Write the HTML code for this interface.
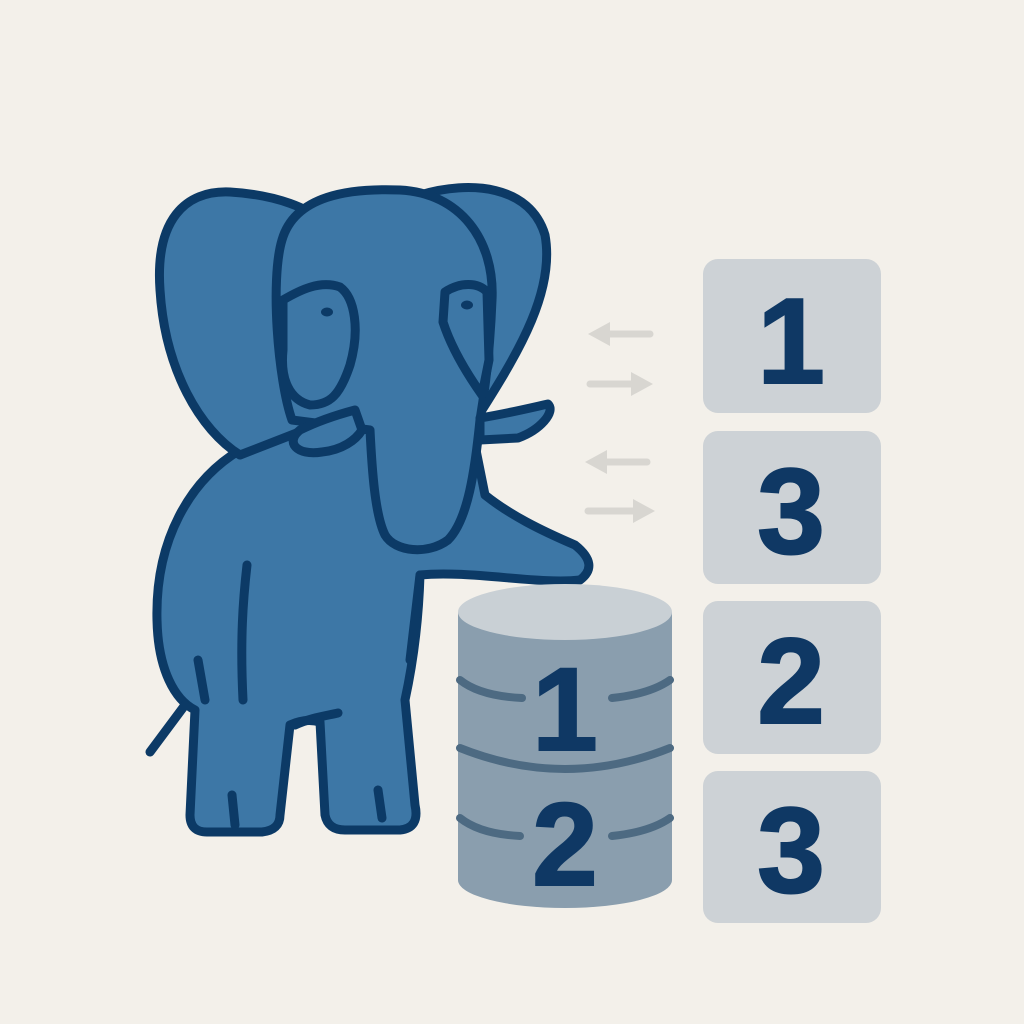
<!DOCTYPE html>
<html><head><style>
html,body{margin:0;padding:0;background:#f3f0ea;}
svg{display:block}
</style></head><body>
<svg width="1024" height="1024" viewBox="0 0 1024 1024" xmlns="http://www.w3.org/2000/svg">
<rect width="1024" height="1024" fill="#f3f0ea"/>
<!-- arrows -->
<g stroke="#d8d6d1" stroke-width="7" stroke-linecap="round" fill="none">
<path d="M650,334 L605,334"/>
<path d="M590,384 L635,384"/>
<path d="M647,462 L602,462"/>
<path d="M588,511 L636,511"/>
</g>
<g fill="#d8d6d1">
<path d="M588,334 L610,322 L610,346 Z"/>
<path d="M653,384 L631,372 L631,396 Z"/>
<path d="M585,462 L607,450 L607,474 Z"/>
<path d="M655,511 L633,499 L633,523 Z"/>
</g>
<!-- boxes -->
<g fill="#cdd2d6">
<rect x="703" y="259" width="178" height="154" rx="15"/>
<rect x="703" y="431" width="178" height="153" rx="15"/>
<rect x="703" y="601" width="178" height="153" rx="15"/>
<rect x="703" y="771" width="178" height="152" rx="15"/>
</g>
<g font-family="Liberation Sans, sans-serif" font-weight="bold" font-size="122" fill="#0f3864" text-anchor="middle" stroke="#0f3864" stroke-width="2">
<text x="791" y="383">1</text>
<text x="791" y="553">3</text>
<text x="791" y="723">2</text>
<text x="791" y="892">3</text>
</g>
<!-- elephant body -->
<g stroke="#0c3a66" stroke-width="9" stroke-linejoin="round" stroke-linecap="round" fill="#3d77a6">
<path d="M240,450 C190,480 155,540 157,620 C158,670 175,700 195,710 L190,815 Q190,832 207,832 L262,832 Q280,830 280,815 L290,725 Q305,718 320,722 L325,815 Q328,830 345,830 L400,830 Q420,828 415,805 L405,700 Q418,640 420,575 C470,570 540,585 580,580 Q600,565 575,545 C540,530 510,515 485,495 L470,420 L300,430 Z"/>
<path d="M240,455 C200,430 165,370 160,290 C155,220 185,190 230,192 C280,195 310,210 320,220 L330,420 Z"/>
<path d="M420,195 C470,180 530,185 545,235 C555,290 520,350 482,410 L460,260 Z"/>
<path d="M292,420 C278,380 270,280 282,240 C295,195 350,188 400,190 C460,193 495,240 492,300 C490,350 485,390 480,420 C475,470 468,520 448,540 C428,555 395,552 385,535 C375,515 372,470 370,430 Z"/>
<path d="M283,300 C300,290 320,280 340,287 C355,298 360,330 350,365 C340,395 330,405 310,405 C290,400 280,380 283,350 Z"/>
<path d="M445,292 C460,282 478,282 487,292 L489,360 L482,395 C470,378 452,350 443,322 Z"/>
<path d="M355,410 C340,414 320,420 300,430 C285,442 296,456 322,452 C342,450 356,440 362,430 Z"/>
<path d="M480,418 C505,414 530,408 548,404 C556,412 540,430 518,438 L480,440 Z"/>
<path fill="none" d="M247,565 C243,600 240,640 243,700 M198,660 L205,700 M185,705 L150,752 M232,795 L235,825 M378,790 L382,818 M295,725 C310,718 325,716 338,713 M420,575 L410,660"/>
</g>
<ellipse cx="327" cy="312" rx="6" ry="4.5" fill="#0c3a66"/>
<ellipse cx="467" cy="305" rx="6" ry="4.5" fill="#0c3a66"/>
<!-- cylinder -->
<path d="M458,612 L458,880 A107,28 0 0 0 672,880 L672,612 Z" fill="#8a9eae"/>
<ellipse cx="565" cy="612" rx="107" ry="28" fill="#c9d0d5"/>
<g stroke="#4d6a82" stroke-width="8" fill="none" stroke-linecap="round">
<path d="M460,680 Q480,696 522,698"/>
<path d="M612,698 Q650,694 670,680"/>
<path d="M460,748 Q565,790 670,748"/>
<path d="M460,818 Q480,834 520,836"/>
<path d="M612,836 Q650,832 670,818"/>
</g>
<g font-family="Liberation Sans, sans-serif" font-weight="bold" font-size="118" fill="#0f3864" text-anchor="middle" stroke="#0f3864" stroke-width="2">
<text x="565" y="750">1</text>
<text x="565" y="885">2</text>
</g>
</svg>
</body></html>
